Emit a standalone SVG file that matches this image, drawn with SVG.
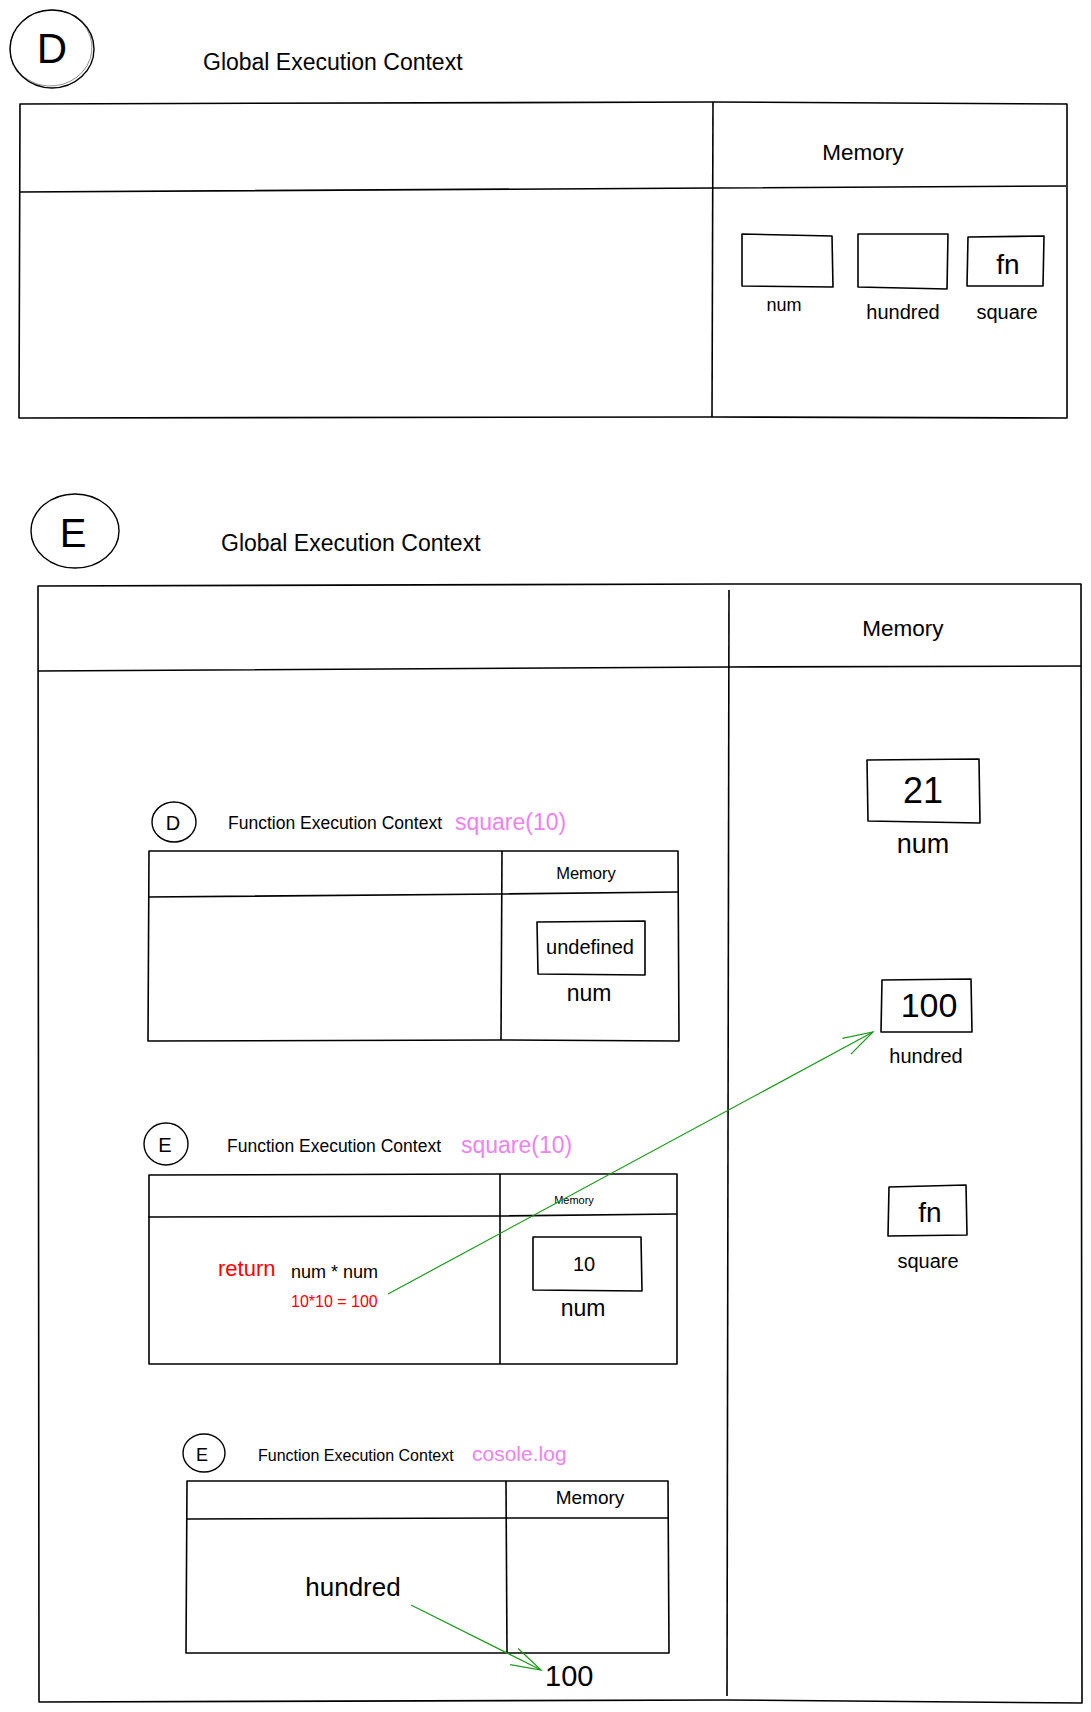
<svg xmlns="http://www.w3.org/2000/svg" width="1091" height="1712" viewBox="0 0 1091 1712">
<style>
.bg{fill:#fff}
.frame{fill:none;stroke:#000;stroke-width:1.6;stroke-linejoin:round}
.sk{fill:none;stroke:#000;stroke-width:0.7;opacity:0.6}
.circ{fill:none;stroke:#000;stroke-width:1.4}
.t{font-family:"Liberation Sans",Arial,Helvetica,sans-serif;fill:#000}
.m{text-anchor:middle}
.violet{fill:#EE82EE}
.red{fill:#FF0000}
.arrow{fill:none;stroke:#1a9a1a;stroke-width:1.2}
</style>
<defs>
<marker id="openArrow" markerUnits="userSpaceOnUse" markerWidth="40" markerHeight="30" viewBox="-32 -15 40 30" refX="0" refY="0" orient="auto">
<path d="M -30 -9 L 0 0 L -30 9" fill="none" stroke="#1a9a1a" stroke-width="1.2"/>
</marker>
</defs>
<rect class="bg" x="0" y="0" width="1091" height="1712"/>

<!-- ===== Section D ===== -->
<g id="label-D">
<ellipse class="circ" cx="52" cy="49" rx="42" ry="39"/>
<ellipse class="sk" cx="51" cy="48" rx="41" ry="38" transform="rotate(-6 51 48)"/>
<text class="t m" x="52" y="63" font-size="42">D</text>
</g>
<g id="title-D">
<text class="t" x="203" y="70" font-size="23">Global Execution Context</text>
</g>
<g id="gec-D">
<path class="frame" d="M20 104 L713 102 L1067 104 L1067 418 L712 417 L19 418 Z"/>
<path class="frame" d="M19 192 L713 188 L1066 186"/>
<path class="frame" d="M713 102 L712 417"/>
<text class="t m" x="863" y="160" font-size="22.5">Memory</text>
</g>
<g id="mem-D-num">
<path class="frame" d="M742 234 L832 236 L833 287 L742 286 Z"/>
<text class="t m" x="784" y="311" font-size="18">num</text>
</g>
<g id="mem-D-hundred">
<path class="frame" d="M858 234 L948 234 L947 289 L858 287 Z"/>
<text class="t m" x="903" y="319" font-size="20">hundred</text>
</g>
<g id="mem-D-square">
<path class="frame" d="M968 237 L1044 236 L1043 286 L967 286 Z"/>
<text class="t m" x="1008" y="274" font-size="28">fn</text>
<text class="t m" x="1007" y="319" font-size="20">square</text>
</g>

<!-- ===== Section E ===== -->
<g id="label-E">
<ellipse class="circ" cx="75" cy="531" rx="44" ry="37"/>
<text class="t m" x="73" y="547" font-size="40">E</text>
</g>
<g id="title-E">
<text class="t" x="221" y="551" font-size="23">Global Execution Context</text>
</g>
<g id="gec-E">
<path class="frame" d="M38 586 L727 584 L1081 584 L1082 1703 L727 1700 L39 1702 Z"/>
<path class="frame" d="M38 671 L728 667 L1081 666"/>
<path class="frame" d="M729 590 L727 1696"/>
<text class="t m" x="903" y="636" font-size="22.5">Memory</text>
</g>
<g id="mem-E-num">
<path class="frame" d="M867 760 L979 759 L980 823 L868 821 Z"/>
<text class="t m" x="923" y="803" font-size="36">21</text>
<text class="t m" x="923" y="853" font-size="27">num</text>
</g>
<g id="mem-E-hundred">
<path class="frame" d="M882 980 L971 979 L972 1032 L881 1032 Z"/>
<text class="t m" x="929" y="1017" font-size="34">100</text>
<text class="t m" x="926" y="1063" font-size="20">hundred</text>
</g>
<g id="mem-E-square">
<path class="frame" d="M889 1187 L966 1185 L967 1235 L888 1236 Z"/>
<text class="t m" x="930" y="1222" font-size="28">fn</text>
<text class="t m" x="928" y="1268" font-size="20">square</text>
</g>

<!-- Function Execution Context 1 (D) -->
<g id="fec1">
<ellipse class="circ" cx="174" cy="822" rx="22" ry="20"/>
<text class="t m" x="173" y="830" font-size="20">D</text>
<text class="t" x="228" y="829" font-size="17.5">Function Execution Context</text>
<text class="t violet" x="455" y="830" font-size="23">square(10)</text>
<path class="frame" d="M149 851 L501 851 L678 851 L679 1041 L501 1040 L148 1041 Z"/>
<path class="frame" d="M148 897 L501 894 L678 892"/>
<path class="frame" d="M502 851 L501 1040"/>
<text class="t m" x="586" y="879" font-size="16.5">Memory</text>
<path class="frame" d="M537 922 L645 921 L645 975 L538 974 Z"/>
<text class="t m" x="590" y="954" font-size="20">undefined</text>
<text class="t m" x="589" y="1001" font-size="23">num</text>
</g>

<!-- Function Execution Context 2 (E) -->
<g id="fec2">
<ellipse class="circ" cx="166" cy="1144" rx="22" ry="21"/>
<text class="t m" x="165" y="1152" font-size="20">E</text>
<text class="t" x="227" y="1152" font-size="17.5">Function Execution Context</text>
<text class="t violet" x="461" y="1153" font-size="23">square(10)</text>
<path class="frame" d="M149 1175 L499 1174 L677 1174 L677 1364 L500 1364 L149 1364 Z"/>
<path class="frame" d="M148 1217 L499 1216 L677 1214"/>
<path class="frame" d="M500 1174 L500 1364"/>
<text class="t m" x="574" y="1204" font-size="11">Memory</text>
<path class="frame" d="M533 1237 L641 1237 L642 1291 L533 1290 Z"/>
<text class="t m" x="584" y="1271" font-size="20">10</text>
<text class="t m" x="583" y="1316" font-size="23">num</text>
<text class="t red" x="218" y="1276" font-size="22">return</text>
<text class="t" x="291" y="1278" font-size="18">num * num</text>
<text class="t red" x="291" y="1307" font-size="16">10*10 = 100</text>
</g>

<!-- Function Execution Context 3 (cosole.log) -->
<g id="fec3">
<ellipse class="circ" cx="204" cy="1453" rx="21" ry="19"/>
<text class="t m" x="202" y="1461" font-size="18">E</text>
<text class="t" x="258" y="1461" font-size="16">Function Execution Context</text>
<text class="t violet" x="472" y="1461" font-size="21">cosole.log</text>
<path class="frame" d="M187 1481 L506 1481 L668 1481 L669 1653 L506 1653 L186 1653 Z"/>
<path class="frame" d="M187 1519 L506 1518 L668 1518"/>
<path class="frame" d="M506 1481 L507 1653"/>
<text class="t m" x="590" y="1504" font-size="19">Memory</text>
<text class="t m" x="353" y="1596" font-size="26">hundred</text>
<text class="t" x="545" y="1686" font-size="29">100</text>
</g>

<!-- Connectors -->
<g id="connectors">
<path class="arrow" d="M388 1294 L873 1032" marker-end="url(#openArrow)"/>
<path class="arrow" d="M411 1605 L541 1670" marker-end="url(#openArrow)"/>
</g>
</svg>
